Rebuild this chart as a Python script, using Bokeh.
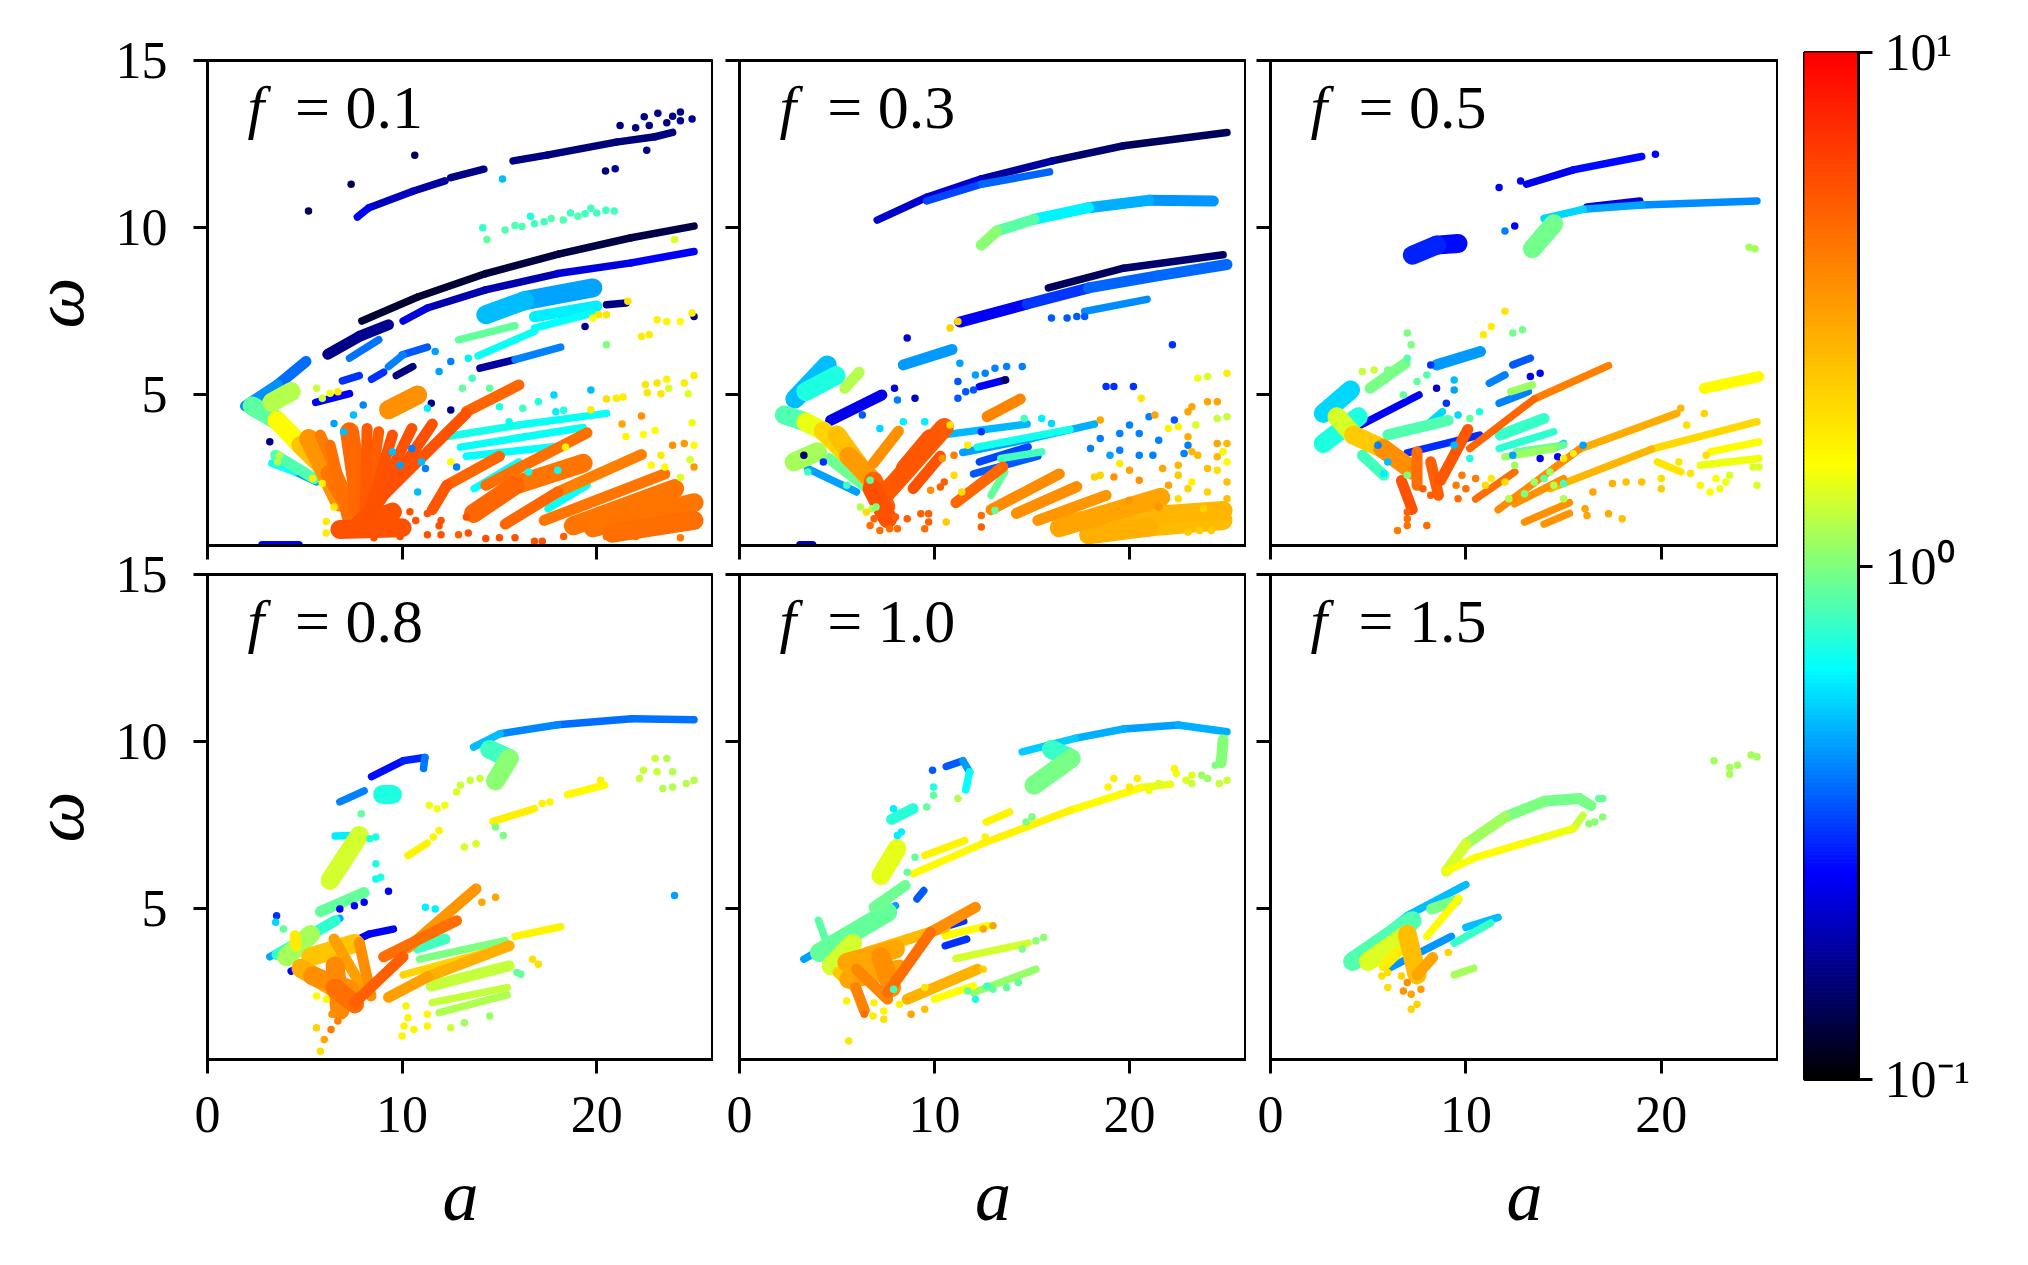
from bokeh.embed import file_html
from bokeh.layouts import column, row
from bokeh.models import ColumnDataSource, FixedTicker, Label, LogColorMapper, Range1d
from bokeh.plotting import figure
from bokeh.resources import INLINE
import numpy as np

# each streak is a list of (a, omega, colour value)
f01_thin = [
    [(7.7,10.32,.3),(8.3,10.6,.2),(10.55,11.09,.2),(12.2,11.4,.16)],
    [(12.5,11.5,.16),(14.2,11.75,.16)],
    [(15.7,12.0,.16),(17.5,12.18,.16),(21,12.56,.15),(23,12.72,.16),(23.9,12.85,.16)],
    [(7.93,7.21,.12),(10.8,7.93,.12),(14.3,8.63,.12),(18.03,9.21,.13),(21.77,9.7,.13),(25,10.05,.13)],
    [(10.05,7.21,.25),(11.3,7.6,.2),(14.29,8.14,.18),(18,8.63,.2),(21.77,8.95,.25),(25,9.29,.25)],
    [(7.3,6.1,.38),(8.8,6.65,.38)],
    [(9.3,5.85,.4),(10.05,6.2,.4)],
    [(10,6.2,.35),(11.3,6.43,.35)],
    [(9.7,5.58,.16),(10.55,5.85,.16)],
    [(6.93,5.42,.3),(7.8,5.58,.3)],
    [(8.43,5.47,.3),(9.05,5.68,.3)],
    [(5.56,4.78,.25),(7.3,5.04,.25)],
    [(16.8,7.0,.65),(19.8,7.45,.62)],
    [(20.5,7.7,.16),(21.5,7.75,.16)],
    [(12.9,6.65,.9),(15.8,7.07,.9)],
    [(13.9,6.17,.65),(16.8,6.9,.65)],
    [(14,5.8,.16),(15.8,6.06,.2),(18.15,6.43,.8)],
    [(12.3,3.76,.7),(16,4.1,.65),(20.5,4.45,.65)],
    [(13,3.44,.65),(16,3.72,.65),(19.3,4.03,.65)],
    [(13.3,3.17,.65),(18.5,3.5,.62)],
    [(3.3,2.96,.9),(4.5,2.7,.5),(5.6,2.4,.4)],
    [(2.8,.52,.25),(4.7,.52,.25)],
    [(17.5,1.6,.65),(19.5,2.3,.65)],
    [(13.7,2.2,.65),(16,3,.62)],
]
f01_mid = [
    [(1.95,4.67,.45),(3.6,5.3,.4),(5.06,6.0,.35)],
    [(6.18,6.22,.16),(7.8,6.75,.17),(9.3,7.1,.17)],
    [(16.8,7.34,.6),(20,7.66,.6)],
    [(11.55,1.57,5.5),(12.3,2.3,5),(15,3.17,4.5)],
    [(14.3,2.3,4.5),(19.5,3.87,4.5)],
    [(7.56,1.14,6),(13.3,4.45,5)],
    [(8.3,1.35,6.3),(11.55,4.13,5)],
    [(5.8,3.8,3),(7.56,1.46,5.5)],
    [(8.8,3.9,4.5),(8.2,1.5,5.5)],
    [(15.3,1.14,5),(18,2.1,4.5),(22.3,3.22,3.5)],
    [(17.3,1.25,4.5),(23.5,2.64,4)],
    [(13.3,4.5,4.5),(16,5.3,5)],
    [(6.3,3.5,3.5),(7.2,1.3,5.5)],
    [(8.2,4,4.5),(8.1,1.4,6)],
    [(9.5,3.8,5),(8.2,1.3,6)],
    [(10.5,4,5),(8.3,1.4,6)],
    [(7.5,3.2,4),(7.5,1.6,5.5)],
    [(3.5,3.2,1),(5.5,2.5,.7)],
]
f01_wide = [
    [(14.3,7.4,.5),(16.3,7.82,.5),(19.8,8.2,.42)],
    [(2.3,4.67,.6),(3.57,4.24,1.3),(4.8,3.5,2.0),(6.3,2.64,3),(7.8,1.25,6)],
    [(3.3,4.78,1.2),(4.3,5.1,1.2)],
    [(7.3,3.9,4),(7.9,1.46,5.5)],
    [(5.2,3.7,2.6),(6.8,1.8,4.5)],
    [(9.3,4.56,3.5),(10.8,5.0,3.5)],
    [(6.8,.98,5.5),(10,1.03,5.5)],
    [(8.2,1.2,5.5),(9.5,1.5,5.5)],
    [(13.67,1.46,5),(15.8,2.3,4.5),(19.3,2.96,4)],
    [(18.8,1.09,4.5),(24,2.2,4)],
    [(19.8,1.03,4.5),(25,1.78,4)],
    [(20.8,.87,4.5),(25,1.25,4.5)],
]
f01_dots = [
    (21.2,13.06,.16),(22,12.99,.16),(22.7,13.06,.16),(22.44,13.32,.16),(23.14,13.42,.16),(24.3,13.46,.16),
    (23.9,13.33,.16),(23.6,13.14,.16),(24.3,13.2,.17),(24.9,13.25,.18),(22.57,12.32,.16),(20.45,11.7,.16),
    (20.95,11.76,.18),(15.16,11.46,.5),(10.65,12.17,.14),(7.38,11.3,.14),(5.19,10.5,.14),
    (14.14,10.0,.75),(14.36,9.65,.9),(15.29,9.93,.85),(15.8,10.07,.85),(16.16,10.04,.85),(16.6,10.34,.7),
    (16.8,10.12,.8),(17.3,10.18,.8),(17.66,10.28,.85),(18.28,10.23,.85),(18.65,10.44,.8),(19.03,10.34,.85),
    (19.4,10.42,.8),(19.7,10.58,.8),(20,10.44,.8),(20.47,10.52,.8),(20.9,10.5,.8),
    (22.5,5.31,1.9),(23.1,5.36,1.9),(23.6,5.47,1.7),(23.7,5.2,1.4),(22.6,5.07,1.9),(23.3,5.04,1.9),
    (24.7,5.04,1.4),(25,5.58,1.8),(24.5,5.36,1.8),(20.5,4.88,2),(21,4.9,1.8),(21.35,4.94,1.8),
    (19.7,5.15,.5),(17.8,5.0,.55),(17,4.8,.7),(17.9,4.5,.6),(18.3,4.54,.7),(19.7,4.56,1.8),(22.3,4.37,3.5),
    (21.3,4.13,3),(24.9,4.17,1.5),(23,3.94,1.6),(22.4,3.82,1.6),(21.5,3.76,1.7),(23.9,3.5,3.5),
    (24.5,3.55,3.3),(25,3.5,1.6),(23.3,3.2,1.8),(24.8,3.06,1.4),(25,2.85,3.3),(23.5,2.85,1.6),(22.8,2.9,1.6),
    (24.3,2.53,1.4),(18.4,3.44,1.7),(10.4,1.51,5.5),(10.7,1.25,5.5),(11.3,1.46,5.5),(12,1.25,5.5),
    (11.3,.82,5.5),(12,.82,5.5),(12.9,.82,5),(13.4,.87,5.5),(14.3,.71,5.5),(15,.73,5.5),(15.8,.73,5.5),
    (16.8,.63,5.5),(17.2,.63,5.5),(18.3,.77,5),(20.5,.77,4.5),(22,.77,4.5),(24.3,.73,4),(9.9,.77,5.5),
    (8.55,.73,5.5),(6.1,1.22,1.8),(6.1,.87,1.8),(6.5,1.65,1.8),(11.9,1.09,5.5),(13.3,1.35,5.5),
    (25,7.35,.16),(24.3,7.2,1.6),(23.6,7.2,1.7),(23.1,7.25,1.7),(24.9,7.45,1.8),(22.7,6.8,1.8),(22.3,6.75,1.8),
    (20.5,7.4,1.9),(20.1,7.4,1.9),(21.6,7.8,2),(19.8,7.3,1.6),(19.4,7.05,.16),(20.5,6.5,1),(24,9.65,1.4),
    (11.7,6.3,.45),(12.5,6.0,.4),(11.9,5.7,.45),(13.4,6.1,.6),(13.6,5.5,.8),(13.1,5.2,.9),(14.5,5.2,.9),
    (15,4.65,.7),(16.2,4.6,.8),(15.5,4.2,.65),(11.5,4.75,.16),(12.5,4.55,.16),(11.3,4.6,.6),(8,4.7,.4),(7.5,4.4,.5),
    (6.5,4.15,.45),(7,3.9,.5),(5.9,4.9,1.3),(5.6,5.2,1.3),(6.3,5.05,1.5),(6.7,5.1,1.8),(3.2,3.6,.16),
    (3.7,3.2,1.2),(3.6,3.0,1.2),(5.9,2.35,1.7),(5.4,2.5,1.8),(11,3.0,.5),(11.2,2.8,.4),(10.5,3.4,.4),
    (12.5,3.0,1.6),(12.8,2.85,.4),(16.5,2.7,.65),(18,2.75,.65),(10.8,2.1,.5),(9.5,3.3,.5),(9.9,2.9,.45),
]

f03_thin = [
    [(7.06,10.23,.2),(9.63,10.92,.22),(12.4,11.46,.2),(16.05,12,.16),(19.7,12.45,.14),(25,12.85,.14)],
    [(9.6,10.8,.3),(12.4,11.3,.35),(15.9,11.67,.38)],
    [(15.84,8.2,.14),(19.7,8.79,.14),(24.8,9.19,.16)],
    [(17.7,7.5,.42),(20.9,7.86,.42)],
    [(12.3,5.25,.25),(13.65,5.45,.25)],
    [(11.45,3.28,.45),(15,3.7,.45),(18.2,4.13,.5)],
    [(12,2.64,.35),(15.3,3.17,.35)],
    [(12.2,3.44,.7),(16.95,3.97,.65)],
    [(10.35,3.8,.6),(14.75,4.13,.4)],
    [(12.3,3.0,.35),(14.8,3.45,.3)],
    [(3.1,.52,.2),(3.75,.52,.2)],
    [(12.9,2.0,.9),(13.6,2.7,.9)],
    [(13.4,3.1,.9),(15.5,3.3,.7)],
    [(3.5,2.8,.4),(6,2.1,.5)],
]
f03_mid = [
    [(12.4,9.48,1.1),(13.2,9.9,1),(15.1,10.25,.75),(17.9,10.6,.5),(21,10.82,.45),(24.3,10.8,.42)],
    [(11.3,7.18,.22),(14.75,7.72,.27),(17.9,8.2,.35),(21.5,8.57,.37),(25,8.9,.37)],
    [(8.4,5.9,.65),(10.9,6.36,.3)],
    [(4.67,4.24,.25),(7.3,5.0,.22)],
    [(5.4,5.2,1.2),(6.14,5.68,1.2)],
    [(6.87,2.96,3.5),(8.15,3.92,3.5)],
    [(11.1,1.78,5),(13.5,2.85,4.5)],
    [(12.7,4.35,3.8),(14.4,4.88,3.8)],
    [(12.9,1.57,3.8),(16.4,2.64,3.5)],
    [(14.2,1.46,3.6),(17.3,2.26,3.5)],
    [(15.3,1.25,3.4),(18.8,2.0,3.3)],
    [(8.9,2.2,5.5),(10.3,3.17,5.5)],
    [(8,2.3,5.5),(9.5,3.6,5)],
    [(4.6,3.1,1.1),(6.6,2.2,.8)],
]
f03_wide = [
    [(2.84,4.88,.5),(4.5,5.9,.5)],
    [(3.4,5.1,.7),(4.95,5.58,.7)],
    [(2.3,4.4,.6),(3.4,4.19,1.2),(4.3,3.92,1.8),(5.6,3.17,2.6),(6.87,2.42,4),(7.5,1.67,6)],
    [(2.8,3.0,1.1),(4,3.3,1.2)],
    [(7.4,2,6),(10.5,4.03,4.5)],
    [(8.5,2.8,5.5),(9.8,3.7,5)],
    [(5,3.8,1.9),(6.5,2.6,3.2)],
    [(6.8,2.2,5),(7.6,1.3,6.3)],
    [(16.4,1.03,3),(21.6,1.94,3)],
    [(17.9,.82,2.8),(21,1.05,2.8),(24.8,1.25,2.4)],
    [(16.5,1.2,3.2),(24.8,1.55,2.2)],
]
f03_dots = [
    (22.2,6.5,.3),(20.2,5.25,.3),(18.8,5.25,.3),(19.2,5.25,.3),(16,7.3,.35),(16.8,7.3,.35),(17.3,7.35,.35),(17.7,7.35,.35),
    (11.2,7.2,2.2),(10.8,7.0,2.2),(8.6,6.7,.22),(11.3,5.95,.45),(12.1,5.6,.45),(12.6,5.65,.4),(13.1,5.8,.4),
    (13.7,5.85,.4),(14.5,5.85,.4),(11.2,5.4,.35),(11.2,4.9,.35),(11.6,5.1,.35),(12,5.15,.35),(13.6,5.45,.14),
    (7.95,5.2,.22),(9,4.9,.2),(8.1,4.85,.4),(6.3,4.4,.35),(3.3,3.2,.15),(3.5,2.7,.8),(4.3,3.0,.3),(5.5,2.3,.8),(6.7,2.45,.9),
    (6.2,1.65,1.2),(6.8,1.6,1.2),(7.2,4.0,.55),(8.4,4.2,.6),(9.5,4.2,.6),(10.8,4.1,2),(12.4,3.9,.3),(14.6,4.3,.8),(15.5,4.3,.6),
    (16,4.15,.55),(18,3.4,.4),(19,3.2,.45),(19.5,3.35,.4),(20.5,3.2,.4),(21.2,3.2,.4),(22.8,3.25,.4),(20,4.1,.4),(21,4.35,.4),
    (22.3,4.25,.35),(23,3.5,.4),(21.5,3.65,.4),(20.5,3.85,.4),(19.5,3.85,.4),(18.5,3.7,.4),(20.6,4.9,1.9),(23,4.5,3),
    (23.5,5.5,1.5),(24,5.55,1.4),(25,5.65,1.8),(24.5,4.8,3),(24,4.8,3),(24.5,4.3,1.3),(25,4.35,1.3),(23.4,4.1,1.4),(23.2,4.65,3),
    (18.5,4.25,3),(21.3,4.4,3),(22,4.0,1.7),(22.5,4.05,1.7),(23,3.75,2.8),(24.5,3.55,3),(25,3.55,2.6),(24.8,3.3,1.7),(25,3.0,1.6),
    (22.5,2.9,2.6),(23.2,3.3,2.6),(23.5,3.2,2.6),(24.5,3.15,2.6),(24,2.8,2.5),(24.5,2.75,2),(25,2.4,2.5),(23.2,2.4,1.7),(22.5,2.6,2.3),
    (23,2.2,2.2),(24,2.1,2.2),(25,1.9,2.5),(23.8,1.6,2.2),(22.5,1.9,2),(23.6,.95,2.3),(24.2,.95,2.3),(23,.9,2.3),(18.5,2.6,2.2),
    (18.2,2.55,2.2),(19.5,2.95,1.8),(20,2.75,3),(19.2,2.55,3.5),(20.5,2.45,3.5),(21.7,2.8,3),(22,2.3,3),(21.5,1.65,3.4),(20,1.85,3.4),
    (6.7,1.1,4.5),(6.9,1.3,5),(7.2,.95,4.5),(7.7,1.0,4.5),(8.1,1.0,4.5),(8,1.35,5),(8.6,1.3,5),(9.3,1.45,5),(9.7,1.45,5),(9.5,1.0,4.5),
    (9.7,1.2,5),(10.6,1.2,2.3),(12.4,1.05,5),(12.4,1.4,4.5),(7,1.65,1),(6.5,1.5,2),(10.5,2.4,5),(10.3,2.25,5),(9.8,2.15,3.5),(11,2.6,2),
    (11.4,2.1,2),(11,3.2,4),(10.4,3.1,3.5),(11.7,3.5,1.8),(13.1,1.55,.9),
]

f05_thin = [
    [(13.1,11.3,.22),(15.5,11.73,.25),(19,12.13,.27)],
    [(14,10.28,.6),(16,10.55,.5),(19,10.68,.42),(24.9,10.8,.42)],
    [(16.2,10.62,.22),(18.9,10.8,.22)],
    [(12.3,5.1,1.1),(13.4,5.3,1.1)],
    [(11.7,4.75,.4),(13.2,5.1,.4)],
    [(4.6,4.1,.25),(7.6,5.0,.25)],
    [(7,3.27,.25),(10.7,3.8,.35)],
    [(8,4.1,.6),(8.8,4.5,.5)],
    [(11.2,5.35,.4),(12,5.6,.4)],
    [(12.4,5.9,.35),(13.3,6.1,.35)],
    [(11.7,3.4,1.1),(14.5,3.9,.5)],
    [(12.6,3.3,1.2),(15,3.5,.7)],
    [(12,3.15,1.2),(14.5,3.4,1),(15,3.55,.3)],
    [(10.2,3.4,5),(13.5,4.88,4.5),(17.3,5.88,3.5)],
    [(11.65,1.57,4),(15.8,3.38,3.3),(20.8,4.45,2.5)],
    [(14.3,2.2,3),(19.5,3.38,2.4),(24.9,4.2,1.8)],
    [(13,1.2,3.5),(15.3,1.78,3.5)],
    [(14,1.14,3.5),(15.3,1.46,3.3)],
    [(10.5,1.89,4.5),(12.5,2.7,4.5)],
    [(12.5,1.75,3.5),(15,2.5,3.5)],
    [(19.8,3.0,1.9),(21,2.7,1.9)],
    [(22.5,3.3,1.7),(25,3.6,1.5)],
    [(22,2.9,1.6),(25,3.1,1.4)],
]
f05_mid = [
    [(8.5,5.9,.65),(10.75,6.3,.3)],
    [(5.1,5.2,1.2),(6.9,5.95,.8)],
    [(6.7,2.44,5),(7.25,1.58,6)],
    [(8.7,2.44,5.5),(10.1,3.97,5)],
    [(6,3.81,.8),(9.1,4.24,.9)],
    [(11.75,3.8,1),(14,4.3,.6)],
    [(22.2,5.2,1.7),(25,5.55,1.5)],
    [(7.5,3.3,4),(7.5,2.3,5)],
    [(8.2,3,5),(8.6,2,5)],
    [(4.7,3.2,.9),(5.8,2.6,.7)],
]
f05_wide = [
    [(14.5,10.12,.8),(13.4,9.37,1.15)],
    [(7.26,9.18,.3),(8.5,9.48,.27),(9.6,9.53,.25)],
    [(2.7,4.45,.5),(4.1,5.15,.6)],
    [(2.7,3.55,.55),(4.5,4.35,.9)],
    [(3.4,4.35,1),(4.25,3.8,1.9),(5.75,3.4,2.8),(7.25,2.75,4.5)],
]
f05_dots = [
    (19.7,12.2,.25),(11.7,11.2,.25),(12.8,11.4,.25),(12,9.9,.4),(12.5,10.05,.25),(24.5,9.42,1.15),(24.8,9.37,1.15),
    (12,7.5,1.9),(11.3,7.05,1.8),(10.9,6.8,1.8),(12.4,6.85,.95),(12.9,6.95,.95),(7,6.85,1),(7.2,6.5,1),(7,6.1,.85),
    (4.7,5.7,1.3),(5.3,5.75,1.3),(6,5.75,1),(6.8,5.0,.9),(7.5,5.4,.9),(8,5.6,.85),(8.2,5.9,.3),(9,4.75,.3),(8.5,5.2,.2),
    (9.4,5.45,.5),(13.8,5.65,.25),(13.3,5.55,.25),(9.4,5.15,.45),(9.6,4.4,.55),(10.7,4.5,.7),(10.2,4.3,.9),(9.4,3.5,.5),
    (5.5,3.5,.4),(5.8,2.65,.6),(6,3.0,.5),(7,2.6,1),(13.8,3.1,.25),(14.7,3.15,.25),(15.5,3.25,.25),(16,3.5,.45),
    (12.4,3.2,.45),(10.2,3.1,.7),(11,2.3,2),(11.3,2.5,1.9),(12,2.4,2),(12.5,2.9,1.1),(14.5,2.3,1.2),(15,1.9,1.2),(12.2,1.9,1.2),
    (13,2.05,1),(13.5,2.4,1.1),(14,2.5,.9),(15,2.35,.8),(14.3,2.7,1.1),(15,3.1,1.8),(15.5,3.25,1.8),(9.8,2.6,4),(10.5,2.5,4),
    (9.5,2.3,4),(10,2.2,4.5),(9.6,1.9,4.5),(7,1.3,4.5),(7,1.1,4.5),(8,1.1,4.5),(6.5,.95,4),(7,1.5,5),(8.2,2,5),(7.8,2.2,5),(8.5,2.1,5),
    (16.1,1.6,3),(16.2,1.4,3),(17.3,1.45,2.9),(18,1.3,2.5),(16.5,2.1,3),(17.5,2.35,2.8),(18.2,2.4,2.5),(19,2.4,2.5),(20,2.2,2.3),
    (20,2.5,2),(20.9,3.0,1.9),(21.5,2.65,1.9),(22,2.3,1.7),(22.5,2.1,1.6),(23,2.2,1.5),(23.3,2.4,1.5),(22.8,2.5,1.6),
    (24.7,2.85,1.4),(25,2.85,1.4),(24.9,2.3,1.4),(23.5,2.6,1.4),(21,4.6,2.6),(22.2,4.45,2.2),(21.3,4.1,2),(22.3,3.2,2),
]

f08_thin = [
    [(13.67,9.84,.55),(15.04,10.24,.45),(18,10.51,.37),(21.8,10.69,.38),(25,10.66,.38)],
    [(8.43,8.96,.25),(10.05,9.43,.27),(11.17,9.53,.3),(11.1,9.2,.5)],
    [(6.8,8.2,.4),(8.05,8.53,.4)],
    [(10.3,6.6,1.7),(11.3,6.97,1.7)],
    [(14.66,7.61,1.8),(16.8,8,1.7)],
    [(18.5,8.42,1.7),(20.4,8.7,1.6)],
    [(6.56,7.18,.6),(7.3,7.2,.6)],
    [(7,5.2,.5),(8.05,5.49,.5)],
    [(3.2,3.57,.55),(6.8,4.72,.4)],
    [(4.3,3.14,.25),(8.3,4.25,.25),(9.55,4.4,.25)],
    [(10.05,3.03,2.3),(14.3,3.7,2)],
    [(10.9,3.5,1),(15.3,4.05,1)],
    [(15.8,4.18,1.7),(18.15,4.47,1.7)],
    [(11.55,2.2,1.5),(15.4,2.65,1.1)],
    [(11.9,1.9,1.3),(15.4,2.43,1.1)],
]
f08_mid = [
    [(5.8,4.92,.9),(8.05,5.49,.9)],
    [(3.57,3.64,.8),(6.56,4.65,.7)],
    [(4.5,4.2,1.8),(4.55,3.9,1.8)],
    [(7.56,2.2,5),(10.05,3.57,5)],
    [(9.05,3.57,4.5),(12.8,4.65,4.5)],
    [(10.3,3.84,3.8),(13.8,5.6,3)],
    [(9.3,2.36,3.3),(11.3,2.97,3),(15.5,3.9,2.6)],
    [(11.5,2.7,1.5),(15.5,3.3,1.1)],
    [(10.8,3.84,.8),(12.2,4.1,.8)],
    [(6.5,4.1,2.2),(8,2.6,4.5)],
    [(7.8,4,2.5),(8.4,2.4,5)],
]
f08_wide = [
    [(14.5,9.77,.7),(15.5,9.5,.9),(14.8,8.83,1.2)],
    [(9,8.42,.7),(9.5,8.42,.7)],
    [(6.3,5.86,1.4),(7.8,7.2,1.3)],
    [(4.06,3.57,1.2),(5.3,4.24,1.1)],
    [(4.8,3.23,2),(6.56,2.63,4),(7.56,2.16,5)],
    [(5.3,3.57,2.3),(7.56,3.97,2.5)],
    [(6.56,3.3,3),(6.8,1.97,4.5)],
    [(5.4,3,2.8),(7.3,2.6,4.5)],
]
f08_dots = [
    (13,8.7,1.3),(12.8,8.5,1.4),(12.2,8.1,1.5),(11.8,8,1.5),(11.4,8.1,1.5),(13.5,8.85,1.3),(14,8.9,1.3),
    (14.8,7.45,1),(15.2,7.2,1),(17.2,8.15,1.7),(17.6,8.2,1.7),(20.2,8.85,1.7),(11.9,7.35,1.7),(11.6,7.15,1.7),(13.2,6.85,1.4),
    (13.8,6.95,1.4),(22.2,8.9,1.3),(22.4,9.15,1.3),(23,9.5,1.3),(23.1,9.1,1.3),(23.6,9.5,1.2),(23.9,9.1,1.2),(23.4,8.6,1.2),(23.9,8.65,1.2),
    (24.6,8.75,1.2),(25,8.85,1.2),(24,5.4,.45),(9.3,5.53,.25),(7.9,7.85,.9),(8.35,7.1,.7),(8.65,7.15,.7),(8.65,6.35,.7),(8.65,5.9,.65),(8.9,5.95,.7),
    (6.8,5.0,.25),(7.55,5.1,.25),(8.05,5.2,.25),(3.55,4.8,.3),(3.5,4.6,.55),(3.9,4.4,.9),(11.7,5.0,.6),(11.2,5.05,.6),
    (14.1,5.2,3),(14.8,5.35,3),(10.2,2.1,1.7),(10.3,1.75,1.7),(10.1,1.5,1.7),(10,1.2,1.7),(10.6,1.4,1.7),(11.3,1.85,1.7),(11.3,1.5,1.7),
    (5.8,.75,2),(6,1.1,3),(6.35,1.4,4),(6.7,1.65,4),(5.6,1.45,2.2),(6.4,1.85,3.5),(5.6,2.4,1.6),(6.1,2.3,1.6),
    (16.7,3.5,2),(17,3.35,2),(15.9,3.1,.9),(16.1,3.05,.9),(14.5,1.8,1.1),(13.2,1.6,1.1),(12.5,1.45,1.3),
]

f10_thin = [
    [(14.5,9.7,.55),(17.2,10.1,.5),(19.7,10.38,.45),(22.5,10.5,.45),(25,10.3,.5)],
    [(10.6,9.26,.35),(11.46,9.43,.35),(11.8,9.1,.55),(11.6,8.56,.75)],
    [(8.9,6.05,1.6),(12.4,6.94,1.7),(16.97,7.95,1.7),(20.6,8.63,1.55),(22.1,8.73,1.4)],
    [(9.5,6.6,1.7),(11.55,7.05,1.7)],
    [(12.66,7.6,1.7),(13.85,7.9,1.7)],
    [(9.1,5.3,.35),(9.45,5.55,.35)],
    [(3.3,3.5,.5),(8,5.1,.4)],
    [(4.05,4.66,.8),(4.4,4.1,.95)],
    [(5.6,3.57,.3),(11.5,4.64,.3)],
    [(10.55,3.9,.3),(11.65,4.1,.3)],
    [(11.1,3.52,1.4),(14.8,3.98,1.3)],
    [(10,2.3,1.8),(12,2.7,1.4)],
    [(12,2.5,1.1),(15.2,3.2,1.05)],
    [(10.55,4.2,1.6),(12.75,4.5,1.6)],
]
f10_mid = [
    [(24.8,10.05,1),(24.7,9.37,1.05)],
    [(7.8,7.68,.75),(8.9,8,.7)],
    [(6.9,5.05,1.05),(8.5,5.7,.85)],
    [(7.6,2.5,5),(9.8,4.3,4),(12.1,5.05,3.2)],
    [(6.5,3.7,2.5),(10.55,4.45,2.6)],
    [(5.05,3.1,1.8),(5.96,2.65,3),(6.4,1.97,5)],
    [(8.6,2.3,3),(12.2,3.2,2.5)],
    [(6,3.2,2.8),(7.6,2.3,5)],
]
f10_wide = [
    [(16,9.77,.7),(17,9.5,.85),(15.1,8.7,1.1)],
    [(7.25,6,1.6),(8.07,6.8,1.3)],
    [(4.1,3.7,.9),(7.6,4.9,.9)],
    [(4.7,3.3,1.5),(5.8,3.97,1.2)],
    [(7.25,3.57,2.5),(7.8,2.65,5)],
    [(5.6,2.9,3),(8.2,3.2,3)],
    [(5.5,3.4,2.5),(8,3.8,3.5)],
]
f10_dots = [
    (24.4,9.3,1),(24,8.9,1.1),(23.7,9.0,1.1),(23.2,8.75,1.3),(22.4,9.05,1.5),(23.2,9,1.4),(22.9,8.85,1.4),(25,8.85,1.3),(24.6,8.75,1.3),
    (9.9,9.15,.35),(7.9,8.0,.6),(8.1,7.2,.6),(9.95,8.65,.7),(9.95,8.4,.9),(9.6,8.05,.9),(11.2,8.3,1.2),(8.3,7.3,.6),
    (8.6,6.1,.9),(9,6.55,.9),(12.6,7.15,1.7),(14.7,7.6,1),(15,7.75,1),(18.9,8.65,1.7),(22.3,9.2,1.7),(20,8.65,1.8),(19.2,8.9,1.8),
    (20.4,8.9,1.8),(21,8.55,1.5),(21.5,8.75,1.4),(14.5,3.8,1),(15.2,4.05,1.05),(15.6,4.15,1.05),(14.3,2.8,.9),(13,2.6,.9),(11.7,2.55,.9),
    (12.1,2.3,.7),(12.7,2.7,.8),(13.7,2.65,.9),(9.5,2.0,2.5),(8.8,1.85,3),(5.6,1.05,1.9),(6.4,1.85,4.5),(6.85,1.8,1.8),(7.4,1.7,2),
    (7.4,1.95,1.7),(13,4.5,3),(12.5,4.4,3),(5.5,2.25,1.7),(6.9,2.2,1.7),(8.2,2.15,1.7),(9.5,2.65,1.9),(7.9,2.6,.8),(12.5,3.2,2.2),
]

f15_thin = [
    [(16,7.8,1.2),(15.5,7.4,1.4),(12.8,6.94,1.6),(10.5,6.54,1.6),(9,6.13,1.5)],
    [(4,3.43,.55),(7,4.8,.55),(10,5.73,.45)],
    [(8,4.18,1.7),(9.64,5.32,1.5)],
    [(6.1,3.24,.45),(9.26,4.18,.42)],
    [(9.4,3.98,.9),(11.27,4.58,.65)],
    [(10,4.45,.5),(11.65,4.75,.5)],
    [(9.4,3.03,1.15),(10.4,3.23,1.15)],
]
f15_mid = [
    [(9,6.13,1.5),(10,6.94,1.2),(12,7.75,1.05),(14,8.22,.95),(15.8,8.3,.95),(16.4,8.09,1)],
    [(8.25,5,.9),(9.5,5.25,1.05)],
    [(7.5,3.03,3),(8.3,3.55,3)],
    [(5.8,3.3,1.7),(6.5,3.7,1.8)],
]
f15_wide = [
    [(4.2,3.43,.8),(7.25,4.65,.9)],
    [(5,3.43,1.4),(7,4.24,1.4)],
    [(7,4.24,1.8),(7.5,3.03,3.5)],
]
f15_dots = [
    (16.8,8.3,.9),(17,8.3,.9),(17,7.75,1.05),(16.6,7.6,1.05),(16.3,7.55,1.05),(22.7,9.43,1.15),(23.5,9.23,1.15),(23.9,9.3,1.15),
    (23.5,9.03,1.15),(24.6,9.6,1.15),(24.9,9.55,1.15),(9.1,3.7,2.2),(6,2.65,2),(6.8,2.55,3.4),(7.2,2.45,3),(7.5,2.15,2.2),(7.2,2.0,2.2),
    (5.7,3,2),(6,3.1,2),(6.7,3,2.2),(7,2.8,3.5),(7.7,2.6,3.2),
]

label_f = ["0.1", "0.3", "0.5", "0.8", "1.0", "1.5"]
a_ticks = [0, 10, 20]
w_ticks = [5, 10, 15]
bar_ticks = [0.1, 1, 10]
bar_labels = {0.1: "10\u207b\u00b9", 1: "10\u2070", 10: "10\u00b9"}

panels = [
    (f01_thin, f01_mid, f01_wide, f01_dots),
    (f03_thin, f03_mid, f03_wide, f03_dots),
    (f05_thin, f05_mid, f05_wide, f05_dots),
    (f08_thin, f08_mid, f08_wide, f08_dots),
    (f10_thin, f10_mid, f10_wide, f10_dots),
    (f15_thin, f15_mid, f15_wide, f15_dots),
]

FONT = "Liberation Serif"

# black - blue - cyan - yellow - red, as the colour bar of the picture
stops = np.array([0, 0.2, 0.4, 0.6, 1.0])
pos = np.linspace(0, 1, 256)
red = np.interp(pos, stops, [0, 0, 0, 255, 255])
green = np.interp(pos, stops, [0, 0, 255, 255, 0])
blue = np.interp(pos, stops, [0, 255, 255, 0, 0])
palette = ["#%02x%02x%02x" % (int(r), int(g), int(b)) for r, g, b in zip(red, green, blue)]
mapper = LogColorMapper(palette=palette, low=0.1, high=10)


def streak_source(thin, mid, wide):
    x0, y0, x1, y1, c, w = [], [], [], [], [], []
    for streaks, px in ((thin, 7.5), (mid, 11), (wide, 19)):
        for streak in streaks:
            for s, e in zip(streak[:-1], streak[1:]):
                x0.append(s[0])
                y0.append(s[1])
                x1.append(e[0])
                y1.append(e[1])
                c.append((s[2] * e[2]) ** 0.5)
                w.append(px)
    order = np.argsort(c)
    data = dict(x0=x0, y0=y0, x1=x1, y1=y1, c=c, w=w)
    return ColumnDataSource({k: np.array(v)[order] for k, v in data.items()})


def panel(i):
    col = i % 3
    bottom = i >= 3
    left = col == 0
    p = figure(
        frame_width=[506, 507, 508][col], frame_height=485,
        x_range=Range1d(0, 26), y_range=Range1d(0.5, 15),
        output_backend="svg", toolbar_location=None,
        min_border_left=[207, 26, 24][col], min_border_right=0,
        min_border_top=29 if bottom else 60, min_border_bottom=180 if bottom else 15,
        border_fill_color=None,
    )
    p.grid.visible = False
    p.outline_line_color = "black"
    p.outline_line_width = 3
    for axis, ticks in ((p.xaxis[0], a_ticks), (p.yaxis[0], w_ticks)):
        axis.ticker = FixedTicker(ticks=ticks)
        axis.axis_line_color = "black"
        axis.axis_line_width = 3
        axis.major_tick_line_width = 3
        axis.major_tick_in = 0
        axis.major_tick_out = 14
        axis.minor_tick_line_color = None
        axis.major_label_text_font = FONT
        axis.major_label_text_font_size = "52px"
        axis.major_label_text_color = "black"
        axis.axis_label_text_font = FONT
        axis.axis_label_text_font_style = "italic"
        axis.axis_label_text_font_size = "72px"
        axis.axis_label_text_color = "black"
    p.xaxis[0].major_label_standoff = 23
    p.yaxis[0].major_label_standoff = 26
    if bottom:
        p.xaxis[0].axis_label = "a"
        p.xaxis[0].axis_label_standoff = 21
    else:
        p.xaxis[0].major_label_overrides = {t: "" for t in a_ticks}
        p.xaxis[0].major_label_standoff = 0
    if left:
        p.yaxis[0].axis_label = "\u03c9"
        p.yaxis[0].axis_label_standoff = 14
    else:
        p.yaxis[0].major_label_overrides = {t: "" for t in w_ticks}
        p.yaxis[0].major_label_standoff = 0

    thin, mid, wide, dots = panels[i]
    colour = {"field": "c", "transform": mapper}
    p.segment("x0", "y0", "x1", "y1", source=streak_source(thin, mid, wide),
              line_color=colour, line_width="w", line_cap="round")
    da, dw, dc = zip(*dots)
    p.scatter("a", "w", source=ColumnDataSource(dict(a=da, w=dw, c=dc)),
              size=7.5, fill_color=colour, line_color=None)

    p.add_layout(Label(x=2.05, y=13.6, text="f", text_font=FONT, text_font_style="italic",
                       text_font_size="60px", text_color="black", text_baseline="alphabetic"))
    p.add_layout(Label(x=4.5, y=13.6, text="= " + label_f[i], text_font=FONT,
                       text_font_size="62px", text_color="black", text_baseline="alphabetic"))
    return p


plots = [panel(i) for i in range(6)]

# colour bar on its own log axis
levels = np.logspace(-1, 1, 257)
bar = figure(
    frame_width=54, frame_height=1027,
    x_range=Range1d(0, 1), y_range=Range1d(0.1, 10), y_axis_type="log", y_axis_location="right",
    output_backend="svg", toolbar_location=None,
    min_border_left=26, min_border_right=150, min_border_top=52, min_border_bottom=120,
)
bar.grid.visible = False
bar.xaxis.visible = False
bar.quad(left=0, right=1, bottom=levels[:-1], top=levels[1:], fill_color=palette, line_color=palette)
bar.outline_line_color = "black"
bar.outline_line_width = 3
axis = bar.yaxis[0]
axis.ticker = FixedTicker(ticks=bar_ticks)
axis.major_label_overrides = bar_labels
axis.axis_line_color = "black"
axis.axis_line_width = 3
axis.major_tick_line_width = 3
axis.major_tick_in = 0
axis.major_tick_out = 14
axis.minor_tick_line_color = None
axis.major_label_text_font = FONT
axis.major_label_text_font_size = "52px"
axis.major_label_text_color = "black"
axis.major_label_standoff = 12

top = row(*plots[:3])
low = row(*plots[3:], margin=(-15, 0, 0, 0))
page = row(column(top, low), bar)
open("out.html", "w").write(file_html(page, INLINE))
